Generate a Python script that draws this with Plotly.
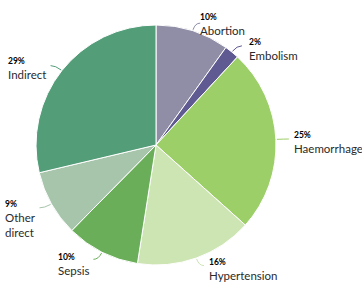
import math
import plotly.graph_objects as go

labels = ["Abortion", "Embolism", "Haemorrhage", "Hypertension", "Sepsis", "Other direct", "Indirect"]
display = ["Abortion", "Embolism", "Haemorrhage", "Hypertension", "Sepsis", "Other<br>direct", "Indirect"]
values = [10, 2, 25, 16, 10, 9, 29]
colors = ["#8f8ea6", "#5f5a92", "#9dcf68", "#cde4b3", "#6aae5a", "#a6c5ab", "#539d79"]
# label nudges (px) for placement
nudges = [(2, 7), (7, 8), (3, 4), (7, -2), (-6, 0), (-2, 8), (-4, 7)]

W, H = 362, 287
cx, cy, R = 156, 145, 120

fig = go.Figure(go.Pie(
    labels=labels, values=values, sort=False, direction="clockwise", rotation=0,
    marker=dict(colors=colors, line=dict(color="white", width=1)),
    textinfo="none", hoverinfo="label+percent", showlegend=False,
    domain=dict(x=[(cx - R) / W, (cx + R) / W], y=[1 - (cy + R) / H, 1 - (cy - R) / H]),
))

def px(x, y):
    return x / W, 1 - y / H

total = sum(values)
cum = 0
annotations, shapes = [], []
for lab, v, col, (nx, ny) in zip(display, values, colors, nudges):
    mid = (cum + v / 2) / total * 2 * math.pi
    cum += v
    s, c = math.sin(mid), math.cos(mid)
    right = s >= 0
    x0, y0 = cx + (R + 1) * s, cy - (R + 1) * c
    x1, y1 = cx + (R + 8) * s, cy - (R + 8) * c
    x2, y2 = x1 + (5 if right else -5), y1
    p0, p1, p2 = px(x0, y0), px(x1, y1), px(x2, y2)
    shapes.append(dict(type="path", xref="paper", yref="paper",
                       path=f"M {p0[0]} {p0[1]} Q {p1[0]} {p1[1]} {p2[0]} {p2[1]}",
                       line=dict(color=col, width=1)))
    tx, ty = cx + 134 * s + nx, cy - 134 * c + ny
    ax_, ay_ = px(tx, ty)
    annotations.append(dict(
        x=ax_, y=ay_, xref="paper", yref="paper", showarrow=False,
        xanchor="left" if right else "right", yanchor="middle", align="left",
        borderpad=0,
        text=f"<span style='font-size:8.5px;color:#000000'><b>{v}%</b></span><br>{lab}",
        font=dict(family="Lato", size=11.5, color="#2a2a2a"),
    ))

fig.update_layout(
    width=W, height=H, margin=dict(l=0, r=0, t=0, b=0),
    paper_bgcolor="white", plot_bgcolor="white",
    annotations=annotations, shapes=shapes,
)
fig.write_html("out.html", config={"displayModeBar": False},
               post_script="document.body.style.margin='0';document.body.style.overflow='hidden';")
